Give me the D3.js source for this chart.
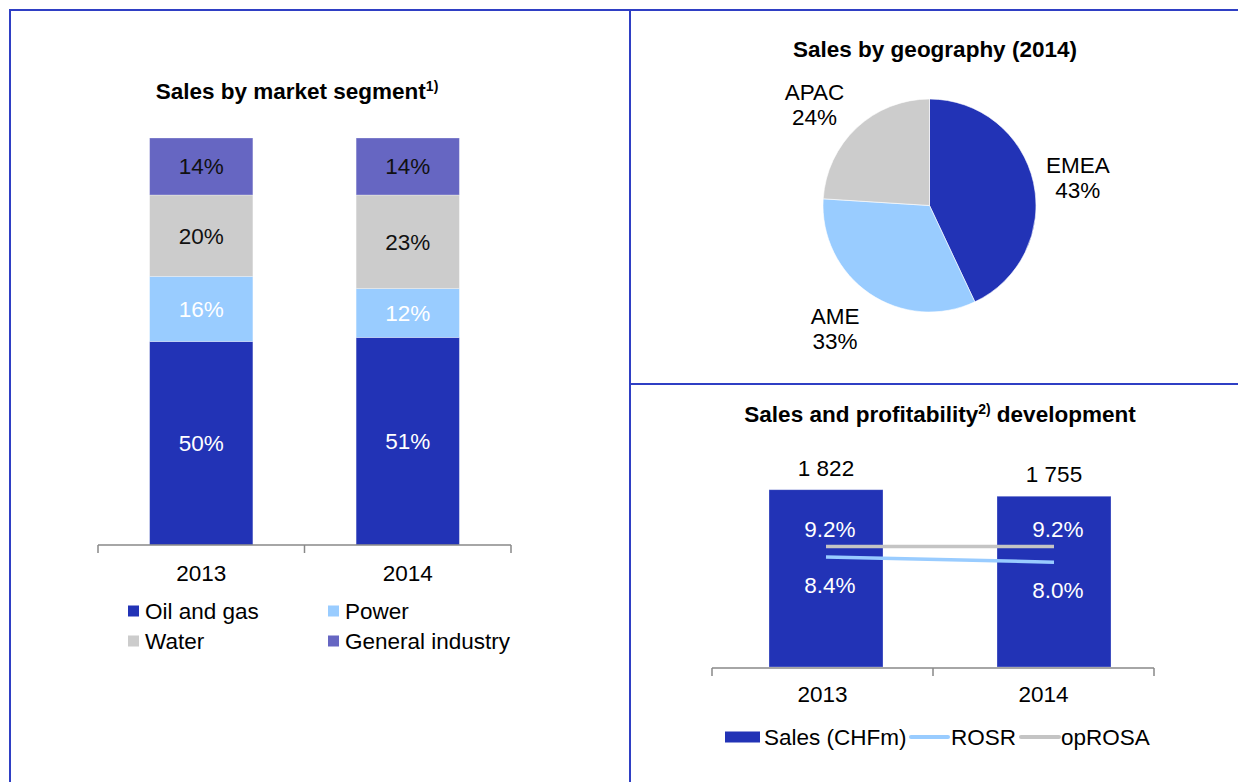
<!DOCTYPE html>
<html><head><meta charset="utf-8">
<script src="https://cdn.jsdelivr.net/npm/d3@7"></script>
<style>
html,body{margin:0;padding:0;background:#fff;}
text{font-family:"Liberation Sans",Arial,sans-serif;}
</style></head>
<body>
<svg id="chart" width="1238" height="782"></svg>
<script>
// ---- data ----
const years = ["2013", "2014"];
const segments = ["Oil and gas", "Power", "Water", "General industry"];
const oilGas = [50, 51];
const power = [16, 12];
const water = [20, 23];
const generalIndustry = [14, 14];

const regions = ["EMEA", "AME", "APAC"];
const regionShare = [43, 33, 24];

const sales = [1822, 1755];
const salesLabels = ["1 822", "1 755"];
const rosr = [8.4, 8.0];
const oprosa = [9.2, 9.2];

// ---- style ----
const C = {
  oil: "#2233B6", power: "#99CCFF", water: "#CCCCCC", general: "#6666C2",
  border: "#2F3FC4", axis: "#888888", text: "#000000",
  rosr: "#99CCFF", oprosa: "#C4C4C4"
};
const FS = 22.5;
const TFS = 22.5;

const svg = d3.select("#chart");

// ---- frame ----
const frame = svg.append("g").attr("stroke", C.border).attr("stroke-width", 2).attr("fill", "none");
frame.append("line").attr("x1", 9).attr("x2", 1238).attr("y1", 10).attr("y2", 10);
frame.append("line").attr("x1", 10).attr("x2", 10).attr("y1", 9).attr("y2", 782);
frame.append("line").attr("x1", 630).attr("x2", 630).attr("y1", 9).attr("y2", 782);
frame.append("line").attr("x1", 630).attr("x2", 1238).attr("y1", 384).attr("y2", 384);

function title(x, y, parts) {
  const t = svg.append("text").attr("x", x).attr("y", y).attr("text-anchor", "middle")
    .attr("font-weight", "bold").attr("font-size", TFS).attr("fill", C.text);
  parts.forEach(p => {
    if (p.sup) t.append("tspan").attr("font-size", 14).attr("dy", -8).text(p.sup);
    else t.append("tspan").attr("dy", p.after ? 8 : 0).text(p.t);
  });
}

// ================= Left: stacked bars =================
const xL = d3.scaleBand().domain(years).range([98, 511]).paddingInner(0.5).paddingOuter(0.25);
const xLAxis = d3.scaleBand().domain(years).range([98, 511]);
const yL = d3.scaleLinear().domain([0, 100]).range([545, 138]);

title(297, 99, [{t: "Sales by market segment"}, {sup: "1)"}]);

const stackRows = years.map((y, i) => ({
  year: y, "Oil and gas": oilGas[i], "Power": power[i], "Water": water[i], "General industry": generalIndustry[i]
}));
const stack = d3.stack().keys(segments)(stackRows);
const segColor = d3.scaleOrdinal().domain(segments).range([C.oil, C.power, C.water, C.general]);
const segTextColor = d3.scaleOrdinal().domain(segments).range(["#fff", "#fff", "#111", "#111"]);

const gL = svg.append("g");
stack.forEach(layer => {
  layer.forEach(d => {
    const x = xL(d.data.year), y0 = yL(d[0]), y1 = yL(d[1]);
    gL.append("rect").attr("x", x).attr("width", xL.bandwidth())
      .attr("y", y1).attr("height", y0 - y1).attr("fill", segColor(layer.key))
      .attr("stroke", "#ffffff").attr("stroke-opacity", 0.35).attr("stroke-width", 0.8);
    gL.append("text").attr("x", x + xL.bandwidth() / 2).attr("y", (y0 + y1) / 2).attr("dy", "0.35em")
      .attr("text-anchor", "middle").attr("font-size", FS).attr("fill", segTextColor(layer.key))
      .text((d[1] - d[0]) + "%");
  });
});

function bandAxis(scale, yBase, labelY) {
  const g = svg.append("g");
  const [r0, r1] = scale.range();
  g.append("line").attr("x1", r0).attr("x2", r1).attr("y1", yBase).attr("y2", yBase)
    .attr("stroke", C.axis).attr("stroke-width", 1.5);
  const edges = scale.domain().map(d => scale(d)).concat([r1]);
  edges.forEach(e => g.append("line").attr("x1", e).attr("x2", e).attr("y1", yBase).attr("y2", yBase + 8)
    .attr("stroke", C.axis).attr("stroke-width", 1.5));
  const ax = svg.append("g").attr("transform", `translate(0,${labelY})`)
    .call(d3.axisBottom(scale).tickSize(0).tickPadding(0));
  ax.select(".domain").remove();
  ax.selectAll("text").attr("font-size", FS).attr("fill", C.text)
    .attr("font-family", '"Liberation Sans",Arial,sans-serif').attr("dy", "0.35em").attr("y", 0);
}
bandAxis(xLAxis, 545, 573);

// legend left
const legL = [
  {k: "Oil and gas", x: 128, y: 611}, {k: "Power", x: 328, y: 611},
  {k: "Water", x: 128, y: 641}, {k: "General industry", x: 328, y: 641}
];
legL.forEach(l => {
  svg.append("rect").attr("x", l.x).attr("y", l.y - 5.5).attr("width", 11).attr("height", 11).attr("fill", segColor(l.k));
  svg.append("text").attr("x", l.x + 17).attr("y", l.y).attr("dy", "0.35em").attr("font-size", FS).attr("fill", C.text).text(l.k);
});

// ================= Right top: pie =================
title(935, 57, [{t: "Sales by geography (2014)"}]);
const pieColor = d3.scaleOrdinal().domain(regions).range([C.oil, C.power, C.water]);
const cx = 929.5, cy = 205.5, R = 106.5;
const pieData = d3.pie().sort(null).value(d => d.v)(regions.map((r, i) => ({r, v: regionShare[i]})));
const arc = d3.arc().innerRadius(0).outerRadius(R);
const gP = svg.append("g").attr("transform", `translate(${cx},${cy})`);
gP.selectAll("path").data(pieData).join("path").attr("d", arc).attr("fill", d => pieColor(d.data.r))
  .attr("stroke", "#fff").attr("stroke-width", 0.6);
const labelOffsets = {EMEA: [0, 5], AME: [-9, -3], APAC: [-11, 10]};
const labelArc = d3.arc().innerRadius(152).outerRadius(152);
pieData.forEach(d => {
  const [lx, ly] = labelArc.centroid(d);
  const o = labelOffsets[d.data.r];
  const t = gP.append("text").attr("text-anchor", "middle").attr("font-size", FS).attr("fill", C.text);
  t.append("tspan").attr("x", lx + o[0]).attr("y", ly + o[1] - 12.5).attr("dy", "0.35em").text(d.data.r);
  t.append("tspan").attr("x", lx + o[0]).attr("y", ly + o[1] + 12.5).attr("dy", "0.35em").text(d.data.v + "%");
});

// ================= Right bottom: bars + lines =================
title(940, 422, [{t: "Sales and profitability"}, {sup: "2)"}, {t: " development", after: true}]);
const xRAxis = d3.scaleBand().domain(years).range([712, 1154]);
const xR = d3.scaleBand().domain(years).range([769, 1111]).paddingInner(0.5);
const yR = d3.scaleLinear().domain([0, 2000]).range([667, 472.4]);
const yPct = d3.scaleLinear().domain([0, 15]).range([667, 470.5]);

const gR = svg.append("g");
years.forEach((yr, i) => {
  gR.append("rect").attr("x", xR(yr)).attr("width", xR.bandwidth()).attr("y", yR(sales[i]))
    .attr("height", yR(0) - yR(sales[i])).attr("fill", C.oil)
    .attr("stroke", "#ffffff").attr("stroke-opacity", 0.35).attr("stroke-width", 0.8);
  gR.append("text").attr("x", xR(yr) + xR.bandwidth() / 2).attr("y", yR(sales[i]) - 22).attr("dy", "0.35em")
    .attr("text-anchor", "middle").attr("font-size", FS).attr("fill", C.text).text(salesLabels[i]);
});
const cxR = yr => xR(yr) + xR.bandwidth() / 2;
const line = d3.line().x(d => cxR(d.y)).y(d => yPct(d.v));
gR.append("path").datum(years.map((y, i) => ({y, v: oprosa[i]}))).attr("d", line)
  .attr("fill", "none").attr("stroke", C.oprosa).attr("stroke-width", 3.5);
gR.append("path").datum(years.map((y, i) => ({y, v: rosr[i]}))).attr("d", line)
  .attr("fill", "none").attr("stroke", C.rosr).attr("stroke-width", 3.5);
years.forEach((yr, i) => {
  gR.append("text").attr("x", cxR(yr) + 4).attr("y", yPct(oprosa[i]) - 17).attr("dy", "0.35em")
    .attr("text-anchor", "middle").attr("font-size", FS).attr("fill", "#fff").text(oprosa[i].toFixed(1) + "%");
  gR.append("text").attr("x", cxR(yr) + 4).attr("y", yPct(rosr[i]) + 28).attr("dy", "0.35em")
    .attr("text-anchor", "middle").attr("font-size", FS).attr("fill", "#fff").text(rosr[i].toFixed(1) + "%");
});
bandAxis(xRAxis, 668, 694);

// legend right
const legY = 737;
svg.append("rect").attr("x", 725).attr("y", legY - 5.5).attr("width", 35).attr("height", 11).attr("fill", C.oil);
svg.append("text").attr("x", 764).attr("y", legY).attr("dy", "0.35em").attr("font-size", FS).attr("fill", C.text).text("Sales (CHFm)");
svg.append("line").attr("x1", 911).attr("x2", 948).attr("y1", legY).attr("y2", legY).attr("stroke", C.rosr).attr("stroke-width", 4).attr("stroke-linecap", "round");
svg.append("text").attr("x", 951).attr("y", legY).attr("dy", "0.35em").attr("font-size", FS).attr("fill", C.text).text("ROSR");
svg.append("line").attr("x1", 1021).attr("x2", 1059).attr("y1", legY).attr("y2", legY).attr("stroke", C.oprosa).attr("stroke-width", 4).attr("stroke-linecap", "round");
svg.append("text").attr("x", 1061).attr("y", legY).attr("dy", "0.35em").attr("font-size", FS).attr("fill", C.text).text("opROSA");
</script>
</body></html>
